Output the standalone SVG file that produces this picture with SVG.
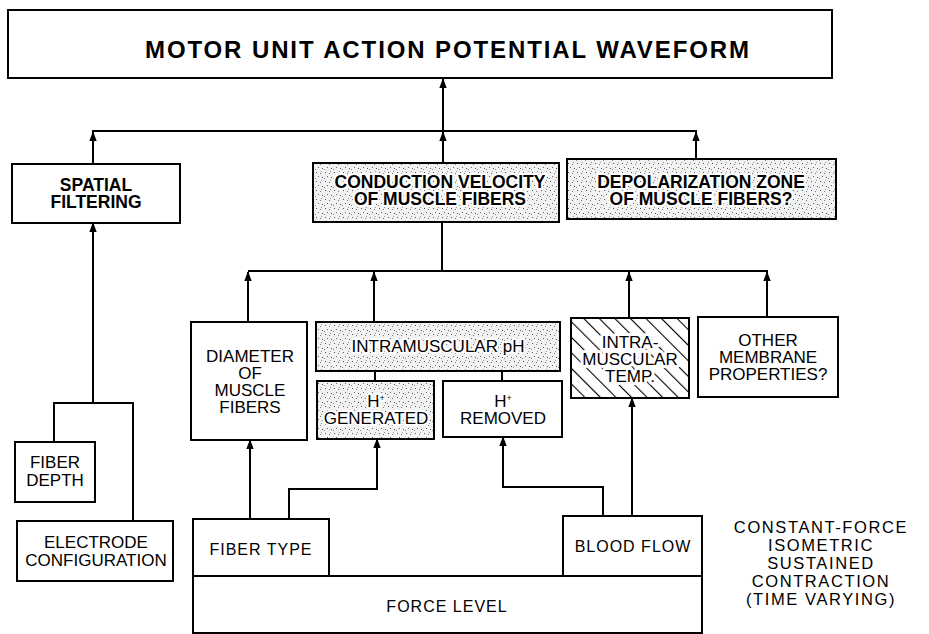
<svg xmlns="http://www.w3.org/2000/svg" width="929" height="634" viewBox="0 0 929 634">
<style>
.box{fill:#fff;stroke:#000;stroke-width:2}
.stip{fill:url(#stipple);stroke:#000;stroke-width:2}
.hatch{fill:url(#hatch);stroke:#000;stroke-width:2}
text{font-family:"Liberation Sans",Arial,sans-serif;fill:#000;text-anchor:middle}
.b{font-weight:bold;font-size:17.5px}
.r{font-size:17px}
.w{font-size:16px;letter-spacing:1px}
.n{font-size:16.5px;letter-spacing:1.6px}
.halo{stroke:#fff;stroke-width:4px;paint-order:stroke;stroke-linejoin:round}
.halo2{stroke:#fff;stroke-width:6px;paint-order:stroke;stroke-linejoin:round}
.conn{fill:none;stroke:#000;stroke-width:2}
.arr{marker-end:url(#ah)}
</style>
<defs>
<marker id="ah" markerUnits="userSpaceOnUse" markerWidth="10" markerHeight="14" refX="11" refY="4.5" orient="auto" viewBox="0 0 12 9">
<path d="M0,0 L12,4.5 L0,9 Z" fill="#000"/>
</marker>
<pattern id="stipple" patternUnits="userSpaceOnUse" width="9" height="9">
<rect width="9" height="9" fill="#f2f2f2"/>
<rect x="1" y="1" width="1" height="1" fill="#555"/>
<rect x="5" y="2" width="1" height="1" fill="#777"/>
<rect x="3" y="5" width="1" height="1" fill="#666"/>
<rect x="7" y="6" width="1" height="1" fill="#555"/>
<rect x="0" y="7" width="1" height="1" fill="#888"/>
<rect x="6" y="0" width="1" height="1" fill="#999"/>
</pattern>
<pattern id="hatch" patternUnits="userSpaceOnUse" width="11" height="11" patternTransform="rotate(-45)">
<rect width="11" height="11" fill="#fff"/>
<line x1="0" y1="0" x2="0" y2="11" stroke="#000" stroke-width="2.2"/>
</pattern>
</defs>

<g id="connectors">
<line class="conn arr" x1="443" y1="131" x2="443" y2="79"/>
<line class="conn" x1="92" y1="131" x2="697" y2="131"/>
<line class="conn arr" x1="93" y1="164" x2="93" y2="132"/>
<line class="conn arr" x1="443" y1="163" x2="443" y2="132"/>
<line class="conn arr" x1="696" y1="159" x2="696" y2="132"/>
<line class="conn arr" x1="93" y1="403" x2="93" y2="223"/>
<polyline class="conn" points="54,442 54,403 133,403 133,521"/>
<line class="conn" x1="442" y1="222" x2="442" y2="271"/>
<line class="conn" x1="248" y1="271" x2="768" y2="271"/>
<line class="conn arr" x1="248" y1="322" x2="248" y2="272"/>
<line class="conn arr" x1="374" y1="322" x2="374" y2="272"/>
<line class="conn arr" x1="629" y1="318" x2="629" y2="272"/>
<line class="conn arr" x1="767" y1="317" x2="767" y2="272"/>
<line class="conn" x1="375" y1="371" x2="375" y2="381"/>
<line class="conn" x1="502" y1="371" x2="502" y2="381"/>
<line class="conn arr" x1="250" y1="519" x2="250" y2="440"/>
<polyline class="conn arr" points="289,519 289,489 377,489 377,439"/>
<polyline class="conn arr" points="603,516 603,487 503,487 503,437"/>
<line class="conn arr" x1="632" y1="516" x2="632" y2="398"/>
</g>

<g id="motor-unit">
<rect class="box" x="8" y="10" width="824" height="68"/>
<text x="447" y="58" style="font-weight:bold;font-size:24px" textLength="604" lengthAdjust="spacing">MOTOR UNIT ACTION POTENTIAL WAVEFORM</text>
</g>

<g id="spatial-filtering">
<rect class="box" x="12" y="164" width="168" height="59"/>
<text class="b" x="96" y="191">SPATIAL</text>
<text class="b" x="96" y="208">FILTERING</text>
</g>

<g id="conduction-velocity">
<rect class="stip" x="313" y="163" width="246" height="59"/>
<text class="b halo" x="440" y="188">CONDUCTION VELOCITY</text>
<text class="b halo" x="440" y="205">OF MUSCLE FIBERS</text>
</g>

<g id="depolarization-zone">
<rect class="stip" x="567" y="159" width="269" height="60"/>
<text class="b halo" x="701" y="188">DEPOLARIZATION ZONE</text>
<text class="b halo" x="701" y="205">OF MUSCLE FIBERS?</text>
</g>

<g id="diameter">
<rect class="box" x="191" y="322" width="116" height="118"/>
<text class="r" x="250" y="362">DIAMETER</text>
<text class="r" x="250" y="379">OF</text>
<text class="r" x="250" y="396">MUSCLE</text>
<text class="r" x="250" y="413">FIBERS</text>
</g>

<g id="intramuscular-ph">
<rect class="stip" x="316" y="322" width="244" height="49"/>
<text class="r halo" x="438" y="352">INTRAMUSCULAR pH</text>
</g>

<g id="h-generated">
<rect class="stip" x="317" y="381" width="117" height="58"/>
<text class="r halo" x="376" y="407">H<tspan dy="-6" style="font-size:9px">+</tspan></text>
<text class="r halo" x="376" y="424">GENERATED</text>
</g>

<g id="h-removed">
<rect class="box" x="443" y="381" width="119" height="56"/>
<text class="r" x="503" y="407">H<tspan dy="-6" style="font-size:9px">+</tspan></text>
<text class="r" x="503" y="424">REMOVED</text>
</g>

<g id="intramuscular-temp">
<rect class="hatch" x="571" y="318" width="118" height="80"/>
<text class="r halo2" x="630" y="348">INTRA-</text>
<text class="r halo2" x="630" y="365">MUSCULAR</text>
<text class="r halo2" x="630" y="382">TEMP.</text>
</g>

<g id="other-membrane">
<rect class="box" x="698" y="317" width="140" height="80"/>
<text class="r" x="768" y="346">OTHER</text>
<text class="r" x="768" y="363">MEMBRANE</text>
<text class="r" x="768" y="380">PROPERTIES?</text>
</g>

<g id="fiber-depth">
<rect class="box" x="15" y="442" width="80" height="60"/>
<text class="r" x="55" y="468">FIBER</text>
<text class="r" x="55" y="486">DEPTH</text>
</g>

<g id="electrode-configuration">
<rect class="box" x="17" y="521" width="156" height="60"/>
<text class="r" x="96" y="548">ELECTRODE</text>
<text class="r" x="96" y="566">CONFIGURATION</text>
</g>

<g id="force-level">
<rect class="box" x="193" y="576" width="509" height="57"/>
<text class="w" x="447" y="612">FORCE LEVEL</text>
</g>

<g id="fiber-type">
<rect class="box" x="193" y="519" width="136" height="57"/>
<text class="w" x="261" y="555">FIBER TYPE</text>
</g>

<g id="blood-flow">
<rect class="box" x="563" y="516" width="139" height="60"/>
<text class="w" x="633" y="552">BLOOD FLOW</text>
</g>

<g id="contraction-note">
<text class="n" x="821" y="533">CONSTANT-FORCE</text>
<text class="n" x="821" y="551">ISOMETRIC</text>
<text class="n" x="821" y="569">SUSTAINED</text>
<text class="n" x="821" y="587">CONTRACTION</text>
<text class="n" x="821" y="605">(TIME VARYING)</text>
</g>
</svg>
